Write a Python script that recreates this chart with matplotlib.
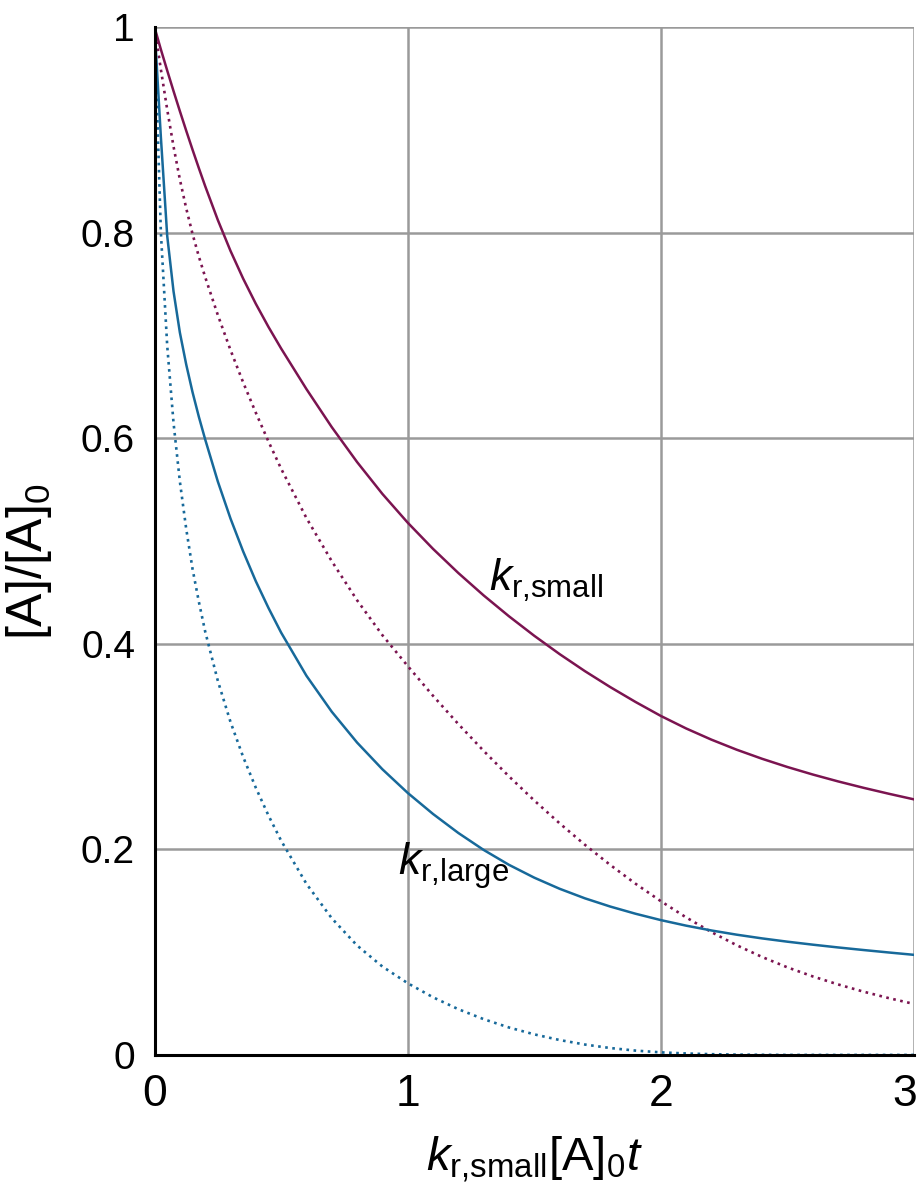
import numpy as np
import matplotlib
matplotlib.use("Agg")
import matplotlib.pyplot as plt
import matplotlib.transforms as mtransforms

plt.rcParams['font.family'] = ['Liberation Sans', 'DejaVu Sans']
plt.rcParams['mathtext.fontset'] = 'custom'
plt.rcParams['mathtext.rm'] = 'Liberation Sans'
plt.rcParams['mathtext.it'] = 'Liberation Sans:italic'

# values
x_vals = [0, 0.025, 0.05, 0.075, 0.1, 0.125, 0.15, 0.175, 0.2, 0.25, 0.3, 0.35, 0.4,
          0.45, 0.5, 0.6, 0.7, 0.8, 0.9, 1.0, 1.1, 1.2, 1.3, 1.4, 1.5, 1.6, 1.7,
          1.8, 1.9, 2.0, 2.1, 2.2, 2.3, 2.4, 2.5, 2.6, 2.7, 2.8, 2.9, 3.0]

small_solid = [1.0, 0.9785, 0.958, 0.938, 0.9185, 0.8995, 0.881, 0.863, 0.8455,
               0.8125, 0.7825, 0.7555, 0.731, 0.7085, 0.6875, 0.648, 0.611, 0.577,
               0.546, 0.518, 0.4925, 0.469, 0.4472, 0.4269, 0.4079, 0.3901, 0.3735,
               0.358, 0.3435, 0.3299, 0.3177, 0.3068, 0.297, 0.2882, 0.2802, 0.2729,
               0.2662, 0.26, 0.2542, 0.2487]
small_dotted = [1.0, 0.959, 0.92, 0.884, 0.852, 0.824, 0.799, 0.777, 0.757,
                0.72, 0.686, 0.6545, 0.625, 0.597, 0.5705, 0.5225, 0.4805, 0.4425,
                0.4085, 0.3785, 0.3495, 0.322, 0.2959, 0.2711, 0.2476, 0.2254, 0.2045,
                0.1849, 0.1666, 0.1496, 0.1338, 0.1195, 0.1067, 0.0953, 0.0852, 0.0764,
                0.0686, 0.0616, 0.0553, 0.0496]
large_solid = [1.0, 0.893, 0.797, 0.743, 0.703, 0.672, 0.645, 0.621, 0.599,
               0.558, 0.522, 0.490, 0.461, 0.435, 0.411, 0.369, 0.334, 0.304,
               0.278, 0.255, 0.2345, 0.216, 0.1995, 0.185, 0.1725, 0.1617, 0.1524,
               0.1444, 0.1374, 0.1312, 0.1258, 0.1211, 0.117, 0.1134, 0.1102, 0.1073,
               0.1046, 0.1021, 0.0997, 0.0974]
large_dotted = [1.0, 0.80, 0.69, 0.615, 0.558, 0.512, 0.473, 0.441, 0.412,
                0.364, 0.324, 0.290, 0.260, 0.233, 0.2085, 0.1665, 0.133, 0.1065,
                0.086, 0.0698, 0.0561, 0.0445, 0.0348, 0.0267, 0.020, 0.0145, 0.0101,
                0.0067, 0.0042, 0.0025, 0.0014, 0.0007, 0.0003, 0.0001, 0.0, 0.0,
                0.0, 0.0, 0.0, 0.0]

x_ticks = [0, 1, 2, 3]
y_ticks = [0, 0.2, 0.4, 0.6, 0.8, 1]
y_ticklabels = ['0', '0.2', '0.4', '0.6', '0.8', '1']

purple = '#7b1450'
blue = '#17699a'

fig = plt.figure(figsize=(9.2, 11.92), dpi=100)
ax = fig.add_axes([0.168, 0.115, 0.8255, 0.862])

dots = (0, (1, 1.7))
ax.plot(x_vals, small_solid, color=purple, lw=1.8, zorder=3)
ax.plot(x_vals, small_dotted, color=purple, lw=1.9, ls=dots, zorder=3)
ax.plot(x_vals, large_solid, color=blue, lw=1.8, zorder=3)
ax.plot(x_vals, large_dotted, color=blue, lw=1.9, ls=dots, zorder=3)

ax.set_xlim(0, 3)
ax.set_ylim(0, 1)
ax.set_xticks(x_ticks)
ax.set_xticklabels([str(t) for t in x_ticks], fontsize=32)
ax.set_yticks(y_ticks)
ax.set_yticklabels(y_ticklabels, fontsize=28)
ax.tick_params(length=0)
ax.tick_params(axis='y', pad=14)
ax.tick_params(axis='x', pad=14)

# last x label sits a little inside the right edge
last = ax.get_xticklabels()[-1]
last.set_transform(last.get_transform() +
                   mtransforms.ScaledTranslation(-9 / 100, 0, fig.dpi_scale_trans))

ax.grid(True, color='#9a9a9a', lw=1.8, zorder=1)
ax.set_axisbelow(True)
for side in ['top', 'right']:
    ax.spines[side].set_visible(False)
for side in ['left', 'bottom']:
    ax.spines[side].set_linewidth(2.2)
    ax.spines[side].set_color('black')
    ax.spines[side].set_zorder(4)

ax.set_ylabel(r'[A]/[A]$_0$', fontsize=36)
ax.yaxis.set_label_coords(-0.133, 0.48)
ax.set_xlabel(r'$k_{\rm r{,}small}$[A]$_0$$t$', fontsize=34, labelpad=14)

ax.text(1.32, 0.452, r'$k_{\rm r{,}small}$', fontsize=32)
ax.text(0.96, 0.175, r'$k_{\rm r{,}large}$', fontsize=32)

fig.savefig('out.png', dpi=100)
